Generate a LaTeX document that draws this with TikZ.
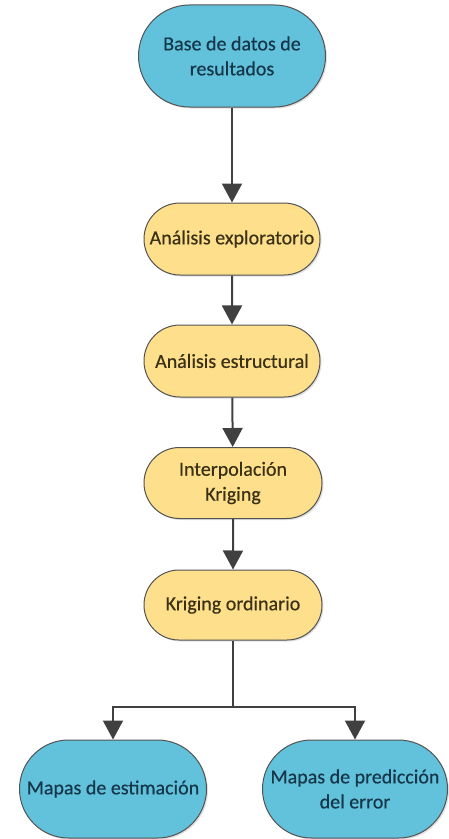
\documentclass[tikz,border=0pt]{standalone}
\usepackage{fontspec}
\setmainfont{Carlito}
\newfontfamily\boxfont[FakeBold=0.4]{Carlito}
\usetikzlibrary{shapes.misc,arrows.meta,shadows}
\definecolor{bluefill}{HTML}{62C2DB}
\definecolor{yelfill}{HTML}{FDDF8C}
\definecolor{bluetext}{HTML}{16364A}
\definecolor{yeltext}{HTML}{3A3015}
\definecolor{linegray}{HTML}{404040}
\tikzset{
  base/.style={rounded rectangle, draw=linegray!90, line width=1bp, align=center,
    inner sep=0pt, font=\boxfont\fontsize{20bp}{25bp}\selectfont,
    drop shadow={opacity=0.25, shadow xshift=1.5bp, shadow yshift=-1.5bp}},
  bluebox/.style={base, fill=bluefill, text=bluetext},
  yelbox/.style={base, fill=yelfill, text=yeltext},
  conn/.style={draw=linegray, line width=2bp, -{Triangle[length=19bp,width=20bp]}},
  plain/.style={draw=linegray, line width=2bp}
}
\begin{document}
\begin{tikzpicture}[x=1bp,y=-1bp]
\useasboundingbox (0,0) rectangle (449,839);
\node[bluebox, minimum width=187bp, minimum height=102bp] (db) at (232,56) {Base de datos de\\resultados};
\node[yelbox, minimum width=176bp, minimum height=72bp] (ae) at (232,239) {Análisis exploratorio};
\node[yelbox, minimum width=176bp, minimum height=72bp] (as) at (232,361) {Análisis estructural};
\node[yelbox, minimum width=178bp, minimum height=71bp] (ik) at (233,483) {Interpolación\\Kriging};
\node[yelbox, minimum width=178bp, minimum height=70bp] (ko) at (233,605) {Kriging ordinario};
\node[bluebox, minimum width=187bp, minimum height=98bp] (me) at (113,789) {Mapas de estimación};
\node[bluebox, minimum width=185bp, minimum height=98bp] (mp) at (355,789) {Mapas de predicción\\del error};
\coordinate (j) at (233,707);
\draw[conn] (db.south) -- (ae.north);
\draw[conn] (ae) -- (as);
\draw[conn] (as) -- (ik);
\draw[conn] (ik) -- (ko);
\draw[plain] (ko.south) -- (j);
\draw[conn] (j) -| (me.north);
\draw[conn] (j) -| (mp.north);
\end{tikzpicture}
\end{document}
